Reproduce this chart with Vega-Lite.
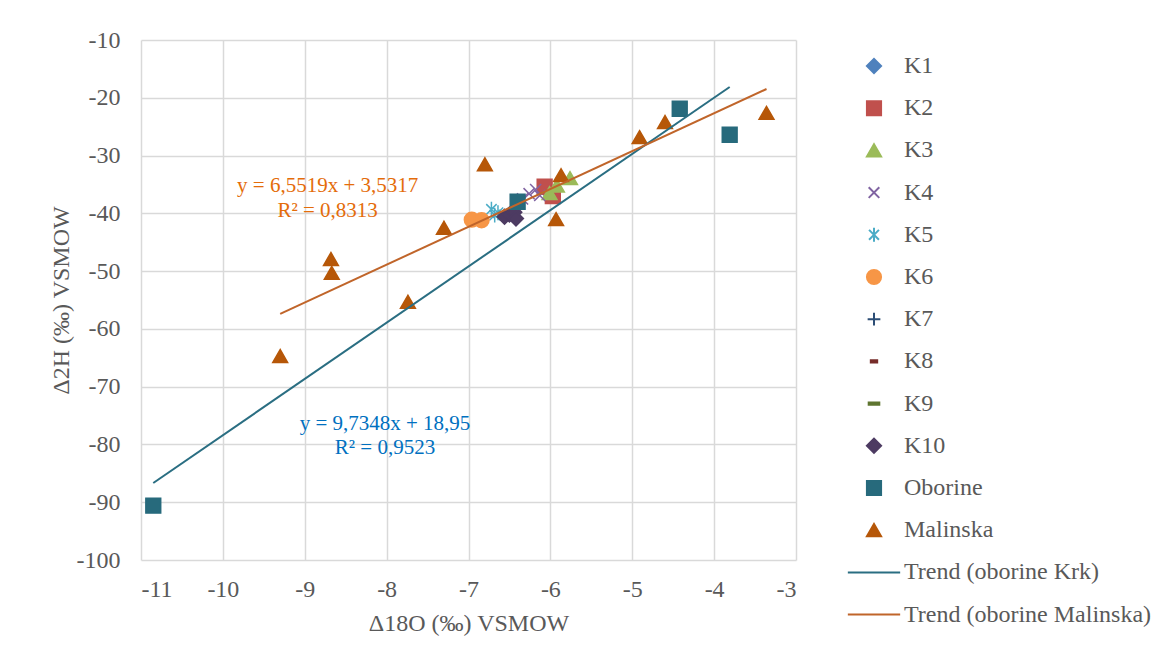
{
  "$schema": "https://vega.github.io/schema/vega-lite/v6.json",
  "width": 655,
  "height": 520,
  "autosize": {"type": "none"},
  "padding": {"left": 141, "top": 40, "right": 380, "bottom": 103},
  "background": "white",
  "config": {
    "view": {"stroke": null},
    "font": "Liberation Serif",
    "axis": {
      "grid": true,
      "gridColor": "#D9D9D9",
      "gridWidth": 1.5,
      "ticks": false,
      "domain": false,
      "labelFont": "Liberation Serif",
      "labelFontSize": 24,
      "labelColor": "#595959",
      "titleFont": "Liberation Serif",
      "titleFontSize": 24,
      "titleFontWeight": "normal",
      "titleColor": "#595959",
      "labelExpr": "'' + datum.value"
    },
    "legend": {
      "labelFont": "Liberation Serif",
      "labelFontSize": 24,
      "labelColor": "#595959",
      "symbolSize": 200,
      "symbolStrokeWidth": 2,
      "symbolOpacity": 1,
      "labelOffset": 18,
      "rowPadding": 18.2,
      "labelLimit": 400
    }
  },
  "datasets": {
    "points": [
      {"series": "K1", "d18O": -6.02, "d2H": -36.4},
      {"series": "K2", "d18O": -6.07, "d2H": -35.4},
      {"series": "K2", "d18O": -5.97, "d2H": -37.0},
      {"series": "K3", "d18O": -6.01, "d2H": -36.5},
      {"series": "K3", "d18O": -5.92, "d2H": -35.2},
      {"series": "K3", "d18O": -5.76, "d2H": -33.9},
      {"series": "K4", "d18O": -6.34, "d2H": -37.5},
      {"series": "K4", "d18O": -6.26, "d2H": -36.6},
      {"series": "K4", "d18O": -6.18, "d2H": -35.9},
      {"series": "K4", "d18O": -6.13, "d2H": -36.9},
      {"series": "K5", "d18O": -6.72, "d2H": -39.3},
      {"series": "K5", "d18O": -6.64, "d2H": -39.9},
      {"series": "K5", "d18O": -6.68, "d2H": -40.3},
      {"series": "K6", "d18O": -6.96, "d2H": -41.1},
      {"series": "K6", "d18O": -6.84, "d2H": -41.2},
      {"series": "K7", "d18O": -6.5, "d2H": -40.3},
      {"series": "K8", "d18O": -6.45, "d2H": -40.0},
      {"series": "K9", "d18O": -6.52, "d2H": -40.6},
      {"series": "K10", "d18O": -6.56, "d2H": -40.6},
      {"series": "K10", "d18O": -6.5, "d2H": -40.2},
      {"series": "K10", "d18O": -6.44, "d2H": -39.8},
      {"series": "K10", "d18O": -6.42, "d2H": -40.9},
      {"series": "Oborine", "d18O": -10.85, "d2H": -90.6},
      {"series": "Oborine", "d18O": -4.42, "d2H": -21.9},
      {"series": "Oborine", "d18O": -3.81, "d2H": -26.4},
      {"series": "Oborine", "d18O": -6.4, "d2H": -38.0},
      {"series": "Malinska", "d18O": -9.3, "d2H": -64.7},
      {"series": "Malinska", "d18O": -8.68, "d2H": -47.9},
      {"series": "Malinska", "d18O": -8.67, "d2H": -50.3},
      {"series": "Malinska", "d18O": -7.74, "d2H": -55.3},
      {"series": "Malinska", "d18O": -7.3, "d2H": -42.5},
      {"series": "Malinska", "d18O": -6.8, "d2H": -31.5},
      {"series": "Malinska", "d18O": -5.93, "d2H": -41.0},
      {"series": "Malinska", "d18O": -5.87, "d2H": -33.4},
      {"series": "Malinska", "d18O": -4.91, "d2H": -26.8},
      {"series": "Malinska", "d18O": -4.6, "d2H": -24.2},
      {"series": "Malinska", "d18O": -3.36, "d2H": -22.6}
    ],
    "trends": [
      {"series": "Trend (oborine Krk)", "d18O": -10.85, "d2H": -86.67},
      {"series": "Trend (oborine Krk)", "d18O": -3.81, "d2H": -18.14},
      {"series": "Trend (oborine Malinska)", "d18O": -9.3, "d2H": -57.4},
      {"series": "Trend (oborine Malinska)", "d18O": -3.36, "d2H": -18.48}
    ],
    "notesMalinska": [
      {"label": "y = 6,5519x + 3,5317", "d18O": -8.72, "d2H": -35.3},
      {"label": "R² = 0,8313", "d18O": -8.72, "d2H": -39.6}
    ],
    "notesKrk": [
      {"label": "y = 9,7348x + 18,95", "d18O": -8.02, "d2H": -76.4},
      {"label": "R² = 0,9523", "d18O": -8.02, "d2H": -80.6}
    ]
  },
  "layer": [
    {
      "data": {"name": "points"},
      "mark": {"type": "point", "filled": true, "size": 220, "strokeWidth": 1.5, "opacity": 1},
      "encoding": {
        "x": {
          "field": "d18O", "type": "quantitative",
          "scale": {"domain": [-11, -3], "nice": false, "zero": false},
          "axis": {"title": "Δ18O (‰) VSMOW", "values": [-11, -10, -9, -8, -7, -6, -5, -4, -3], "labelPadding": 17, "titlePadding": 10}
        },
        "y": {
          "field": "d2H", "type": "quantitative",
          "scale": {"domain": [-100, -10], "nice": false, "zero": false},
          "axis": {"title": "Δ2H (‰) VSMOW", "values": [-100, -90, -80, -70, -60, -50, -40, -30, -20, -10], "labelPadding": 21, "titlePadding": 3}
        },
        "fill": {
          "field": "series", "type": "nominal",
          "scale": {
            "domain": ["K1", "K2", "K3", "K4", "K5", "K6", "K7", "K8", "K9", "K10", "Oborine", "Malinska", "Trend (oborine Krk)", "Trend (oborine Malinska)"],
            "range": ["#4F81BD", "#C0504D", "#9BBB59", "#8064A2", "#4BACC6", "#F79646", "#2C4D75", "#772C2A", "#5F7530", "#4D3B62", "#276A7C", "#B65708", "transparent", "transparent"]
          },
          "legend": {"title": null, "orient": "none", "legendX": 721, "legendY": 14}
        },
        "stroke": {
          "field": "series", "type": "nominal",
          "scale": {
            "domain": ["K1", "K2", "K3", "K4", "K5", "K6", "K7", "K8", "K9", "K10", "Oborine", "Malinska", "Trend (oborine Krk)", "Trend (oborine Malinska)"],
            "range": ["#4F81BD", "#C0504D", "#9BBB59", "#8064A2", "#4BACC6", "#F79646", "#2C4D75", "#772C2A", "#5F7530", "#4D3B62", "#276A7C", "#B65708", "#2A6E82", "#C0652A"]
          },
          "legend": {"title": null, "orient": "none", "legendX": 721, "legendY": 14}
        },
        "shape": {
          "field": "series", "type": "nominal",
          "scale": {
            "domain": ["K1", "K2", "K3", "K4", "K5", "K6", "K7", "K8", "K9", "K10", "Oborine", "Malinska", "Trend (oborine Krk)", "Trend (oborine Malinska)"],
            "range": ["diamond", "square", "triangle-up", "M-0.75,-0.75L0.75,0.75M-0.75,0.75L0.75,-0.75", "M-0.7,-0.7L0.7,0.7M-0.7,0.7L0.7,-0.7M0,-1L0,1", "circle", "M-0.9,0L0.9,0M0,-0.9L0,0.9", "M-0.45,-0.15L0.45,-0.15L0.45,0.15L-0.45,0.15Z", "M-0.75,-0.15L0.75,-0.15L0.75,0.15L-0.75,0.15Z", "diamond", "square", "triangle-up", "M-3.7,0L3.7,0", "M-3.7,0L3.7,0"]
          },
          "legend": {"title": null, "orient": "none", "legendX": 721, "legendY": 14}
        }
      }
    },
    {
      "data": {"name": "trends"},
      "mark": {"type": "line", "strokeWidth": 2},
      "encoding": {
        "x": {"field": "d18O", "type": "quantitative"},
        "y": {"field": "d2H", "type": "quantitative"},
        "stroke": {"field": "series", "type": "nominal", "legend": {"title": null, "orient": "none", "legendX": 721, "legendY": 14}},
        "detail": {"field": "series", "type": "nominal"}
      }
    },
    {
      "data": {"name": "notesMalinska"},
      "mark": {"type": "text", "fontSize": 21, "font": "Liberation Serif", "color": "#E46C0A", "align": "center", "baseline": "middle"},
      "encoding": {
        "x": {"field": "d18O", "type": "quantitative"},
        "y": {"field": "d2H", "type": "quantitative"},
        "text": {"field": "label"}
      }
    },
    {
      "data": {"name": "notesKrk"},
      "mark": {"type": "text", "fontSize": 21, "font": "Liberation Serif", "color": "#0070C0", "align": "center", "baseline": "middle"},
      "encoding": {
        "x": {"field": "d18O", "type": "quantitative"},
        "y": {"field": "d2H", "type": "quantitative"},
        "text": {"field": "label"}
      }
    }
  ]
}
